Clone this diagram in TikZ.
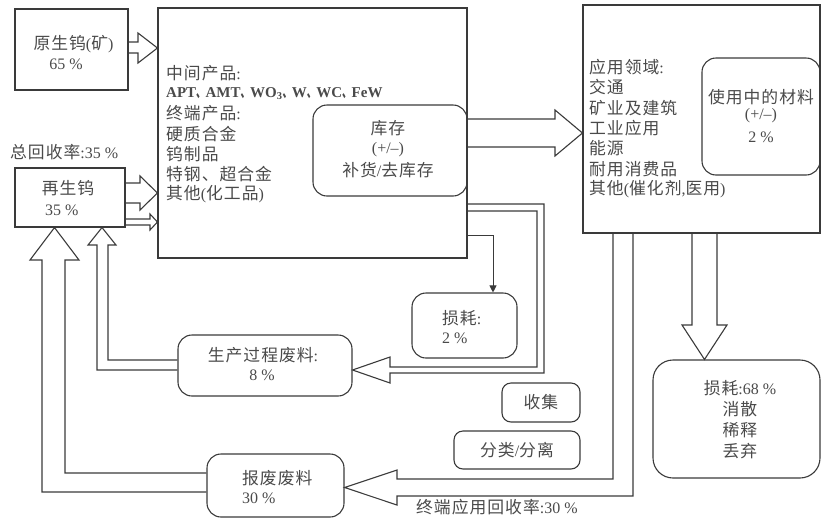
\documentclass[tikz,border=0pt]{standalone}
\usepackage{graphicx}
\usepackage{fontspec}
\setmainfont{Liberation Serif}
\newfontfamily\cjk{Noto Sans CJK SC}[Scale=1.05,LetterSpace=6]
\usetikzlibrary{arrows.meta}
\definecolor{ln}{HTML}{3A3A3A}
\definecolor{tx}{HTML}{4A4A4A}
\newcommand\zh[1]{{\cjk #1}}
\newcommand\dun{\scalebox{0.6}[1]{\cjk 、}}
\begin{document}
\begin{tikzpicture}[x=1pt,y=-1pt,
  box/.style={draw=ln, line width=1.1pt, inner sep=0pt},
  rbox/.style={box, rounded corners=14pt},
  lbl/.style={text=tx, inner sep=0pt, font=\fontsize{16}{20}\selectfont},
  arr/.style={draw=ln, line width=1.1pt, line join=miter},
  dl/.style={draw=ln, line width=1.1pt, line join=miter}]
\useasboundingbox (0,0) rectangle (822,520);
% boxes
\node[box, minimum width=113pt, minimum height=81pt] (src) at (71.5,49.5) {};
\node[box, minimum width=309pt, minimum height=250pt] (main) at (312.5,133) {};
\node[rbox, minimum width=154pt, minimum height=91pt] (inv) at (390,150.5) {};
\node[box, minimum width=237pt, minimum height=228pt] (app) at (701.5,119) {};
\node[rbox, minimum width=118pt, minimum height=117pt] (use) at (761,116.5) {};
\node[box, minimum width=110pt, minimum height=59pt] (rec) at (70,197.5) {};
\node[rbox, minimum width=105pt, minimum height=65pt] (loss2) at (464.5,325.5) {};
\node[rbox, minimum width=174pt, minimum height=61pt] (proc) at (265,365.5) {};
\node[rbox, minimum width=137pt, minimum height=63pt] (scrap) at (275.5,485.5) {};
\node[rbox, rounded corners=9pt, minimum width=78pt, minimum height=39pt] (coll) at (541,402.5) {};
\node[rbox, rounded corners=9pt, minimum width=126pt, minimum height=38pt] (sort) at (517,450) {};
\node[rbox, rounded corners=20pt, minimum width=167pt, minimum height=118pt] (loss68) at (736.5,419) {};
% texts
\node[lbl] (tsrc1) at (73.5,44) {\zh{原生钨}(\zh{矿})};
\node[lbl] (tsrc2) at (66,64) {65 \%};
\node[lbl, anchor=west] (ttot) at (10,152) {\zh{总回收率}:35 \%};
\node[lbl] (trec1) at (68,188) {\zh{再生钨}};
\node[lbl, anchor=west] (trec2) at (45,210) {35 \%};
\node[lbl, anchor=west] (m1) at (166,73) {\zh{中间产品}:};
\node[lbl, anchor=west, font=\fontsize{15}{18}\selectfont] (m2) at (166,94) {\textbf{APT\dun AMT\dun WO\textsubscript{3}\dun W\dun WC\dun FeW}};
\node[lbl, anchor=west] (m3) at (166,113) {\zh{终端产品}:};
\node[lbl, anchor=west] (m4) at (166,134) {\zh{硬质合金}};
\node[lbl, anchor=west] (m5) at (166,154) {\zh{钨制品}};
\node[lbl, anchor=west] (m6) at (166,174) {\zh{特钢、超合金}};
\node[lbl, anchor=west] (m7) at (166,194) {\zh{其他}(\zh{化工品})};
\node[lbl] (i1) at (388,128) {\zh{库存}};
\node[lbl] (i2) at (388,150) {(+/–)};
\node[lbl] (i3) at (388,170) {\zh{补货}/\zh{去库存}};
\node[lbl, anchor=west] (a1) at (589,67) {\zh{应用领域}:};
\node[lbl, anchor=west] (a2) at (589,87) {\zh{交通}};
\node[lbl, anchor=west] (a3) at (589,108) {\zh{矿业及建筑}};
\node[lbl, anchor=west] (a4) at (589,128) {\zh{工业应用}};
\node[lbl, anchor=west] (a5) at (589,148) {\zh{能源}};
\node[lbl, anchor=west] (a6) at (589,169) {\zh{耐用消费品}};
\node[lbl, anchor=west] (a7) at (589,189) {\zh{其他}(\zh{催化剂},\zh{医用})};
\node[lbl] (u1) at (761,97) {\zh{使用中的材料}};
\node[lbl] (u2) at (761,116) {(+/–)};
\node[lbl] (u3) at (761,137) {2 \%};
\node[lbl, anchor=west] (l21) at (442,318) {\zh{损耗}:};
\node[lbl, anchor=west] (l22) at (442,338) {2 \%};
\node[lbl] (p1) at (263,355) {\zh{生产过程废料}:};
\node[lbl] (p2) at (262,375) {8 \%};
\node[lbl, anchor=west] (s1) at (242,478) {\zh{报废废料}};
\node[lbl, anchor=west] (s2) at (242,498) {30 \%};
\node[lbl] (c1) at (541,402) {\zh{收集}};
\node[lbl] (c2) at (517,450) {\zh{分类}/\zh{分离}};
\node[lbl] (x1) at (740,388) {\zh{损耗}:68 \%};
\node[lbl] (x2) at (740,409) {\zh{消散}};
\node[lbl] (x3) at (740,430) {\zh{稀释}};
\node[lbl] (x4) at (740,451) {\zh{丢弃}};
\node[lbl, anchor=west] (tend) at (416,507) {\zh{终端应用回收率}:30 \%};
% hollow arrows
\draw[arr] (src.east |- 0,42) -- (138,42) -- (138,33) -- (main.west |- 0,48) -- (138,63) -- (138,53) -- (src.east |- 0,53);
\draw[arr] (rec.east |- 0,183) -- (140,183) -- (140,176) -- (main.west |- 0,193) -- (140,210) -- (140,203) -- (rec.east |- 0,203);
\draw[arr] (rec.east |- 0,219) -- (150,219) -- (150,214) -- (main.west |- 0,222) -- (150,230) -- (150,225) -- (rec.east |- 0,225);
\draw[arr] (main.east |- 0,119) -- (555,119) -- (555,110) -- (app.west |- 0,133) -- (555,156) -- (555,147) -- (main.east |- 0,147);
\draw[arr] (app.south -| 692,0) -- (692,325) -- (682,325) -- (loss68.north -| 704.5,0) -- (727,325) -- (717,325) -- (app.south -| 717,0);
% thin arrow
\draw[dl, line width=0.9pt, -{Triangle[length=7pt,width=7pt]}] (main.east |- 0,235) -| (loss2.north -| 493,0);
% double-line arrows
\draw[dl] (main.east |- 0,204) -- (544,204) -- (544,373) -- (390,373) -- (390,383) -- (proc.east |- 0,370) -- (390,357) -- (390,367) -- (537,367) -- (537,211) -- (main.east |- 0,211);
\draw[dl] (app.south -| 613,0) -- (613,479) -- (397,479) -- (397,470) -- (scrap.east |- 0,487.5) -- (397,505) -- (397,496) -- (633,496) -- (app.south -| 633,0);
\draw[dl] (proc.west |- 0,360) -- (108,360) -- (108,245) -- (116,245) -- (rec.south -| 102,0) -- (88,245) -- (97,245) -- (97,370) -- (proc.west |- 0,370);
\draw[dl] (scrap.west |- 0,473) -- (65,473) -- (65,260) -- (79,260) -- (rec.south -| 54.5,0) -- (30,260) -- (42,260) -- (42,492) -- (scrap.west |- 0,492);
\end{tikzpicture}
\end{document}
